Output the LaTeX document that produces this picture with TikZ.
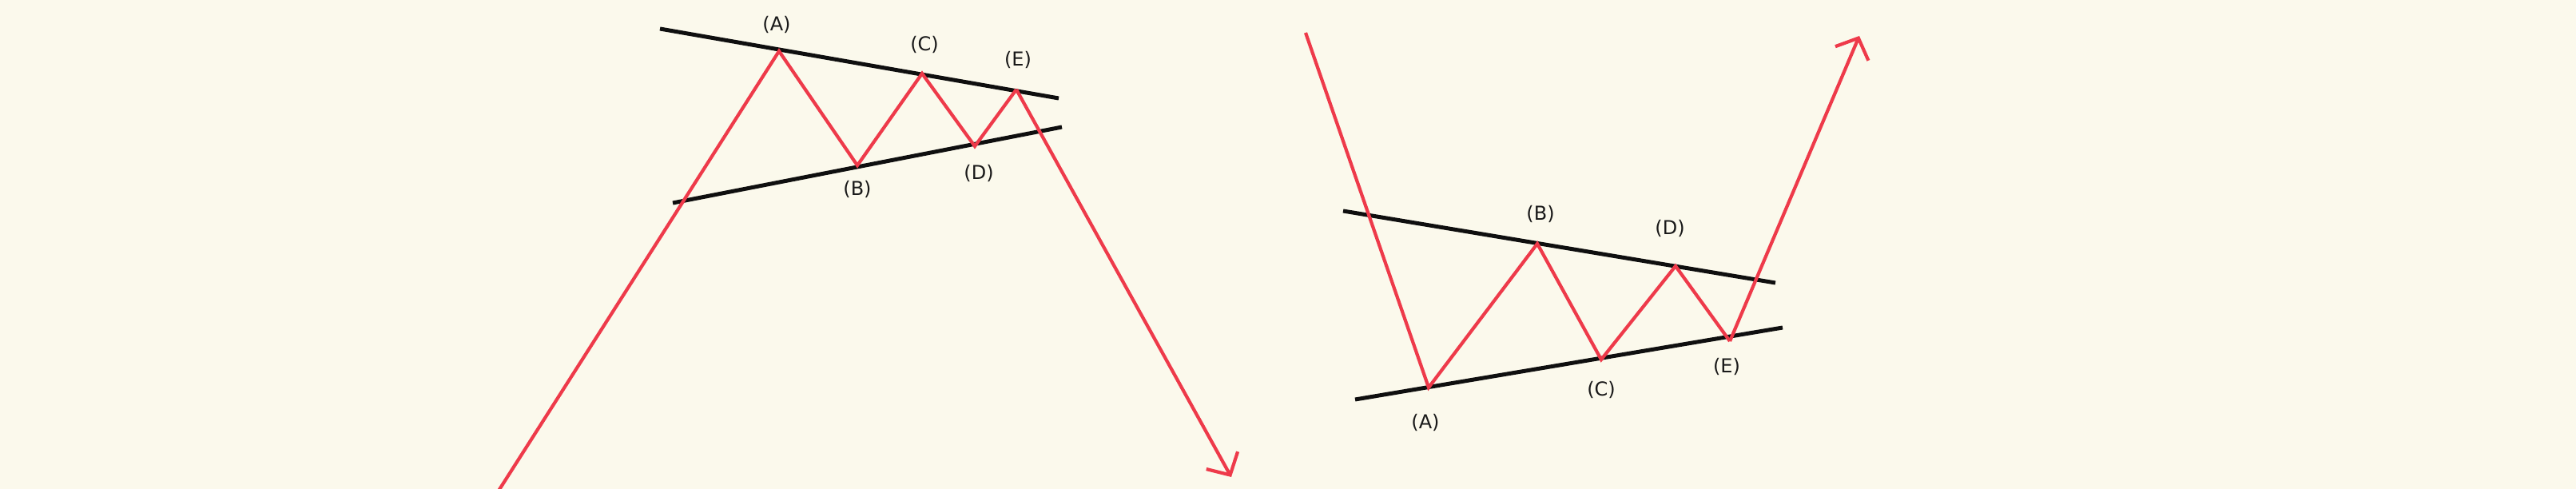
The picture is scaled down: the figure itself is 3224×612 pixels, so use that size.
\documentclass[tikz,border=0pt]{standalone}
\usepackage{fontspec}
\setmainfont{DejaVu Sans}
\usetikzlibrary{arrows.meta}
\definecolor{bg}{RGB}{251,249,236}
\definecolor{wave}{RGB}{238,58,74}
\definecolor{ink}{RGB}{15,15,15}
\definecolor{lbl}{RGB}{25,25,25}
\tikzset{
  trend/.style={draw=ink, line width=5pt},
  path/.style={draw=wave, line width=4.2pt, line join=miter},
  wavearrow/.style={path, -{Straight Barb[length=21pt,width=45pt,line width=4.2pt]}},
  lab/.style={font=\fontsize{24}{28}\selectfont, text=lbl, inner sep=0pt}
}
\begin{document}
\begin{tikzpicture}[x=1pt,y=-1pt]
\fill[bg] (0,0) rectangle (3224,612);
\useasboundingbox (0,0) rectangle (3224,612);

% ---------- left figure ----------
\coordinate (lS) at (619,622);
\coordinate (lA) at (975,64);
\coordinate (lB) at (1073,207);
\coordinate (lC) at (1154,92);
\coordinate (lD) at (1220,183);
\coordinate (lE) at (1272,112);
\coordinate (lT) at (1541,597);
\coordinate (lU1) at (826,36);
\coordinate (lU2) at (1325,123);
\coordinate (lL1) at (842,254);
\coordinate (lL2) at (1329,159);

\draw[trend] (lU1) -- (lU2);
\draw[trend] (lL1) -- (lL2);
\draw[path] (lS) -- (lA) -- (lB) -- (lC) -- (lD) -- (lE);
\draw[wavearrow] (lE) -- (lT);

\node[lab] (lAl) at (972,31) {(A)};
\node[lab] (lBl) at (1073,237) {(B)};
\node[lab] (lCl) at (1157,56) {(C)};
\node[lab] (lDl) at (1225,217) {(D)};
\node[lab] (lEl) at (1274,75) {(E)};

% ---------- right figure ----------
\coordinate (rS) at (1634,41);
\coordinate (rA) at (1788,485);
\coordinate (rB) at (1924,305);
\coordinate (rC) at (2004,450);
\coordinate (rD) at (2097,333);
\coordinate (rE) at (2165,427);
\coordinate (rT) at (2327,45);
\coordinate (rU1) at (1681,264);
\coordinate (rU2) at (2222,354);
\coordinate (rL1) at (1696,500);
\coordinate (rL2) at (2231,410);

\draw[trend] (rU1) -- (rU2);
\draw[trend] (rL1) -- (rL2);
\draw[path] (rS) -- (rA) -- (rB) -- (rC) -- (rD) -- (rE);
\draw[wavearrow] (rE) -- (rT);

\node[lab] (rAl) at (1784,529) {(A)};
\node[lab] (rBl) at (1928,268) {(B)};
\node[lab] (rCl) at (2004,488) {(C)};
\node[lab] (rDl) at (2090,286) {(D)};
\node[lab] (rEl) at (2161,459) {(E)};
\end{tikzpicture}
\end{document}
